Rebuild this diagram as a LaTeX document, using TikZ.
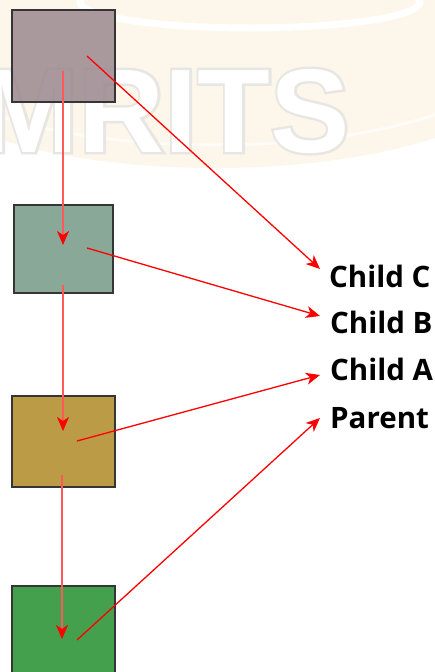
\documentclass[tikz,border=0pt]{standalone}
\usepackage{fontspec}
\setmainfont{Open Sans}
\usetikzlibrary{arrows.meta,calc}
\font\wmout="Liberation Sans Bold:embolden=4" at 119pt
\font\wmin="Liberation Sans Bold" at 119pt
\definecolor{cream}{HTML}{FDF6EA}
\definecolor{wmgray}{HTML}{E8E6E3}
\definecolor{cA}{HTML}{9B888F}
\definecolor{cB}{HTML}{89A898}
\definecolor{cC}{HTML}{BB9B45}
\definecolor{cD}{HTML}{44A04C}
\definecolor{edge}{HTML}{353535}
\tikzset{
  box/.style={draw=edge, line width=1.4pt, inner sep=0pt},
  label/.style={anchor=base west, inner sep=0pt, font=\fontsize{29.5}{32}\selectfont\bfseries},
  vlink/.style={draw=red!65, line width=1.8pt, -{Stealth[length=14pt,width=12pt,inset=4pt,red]}},
  dlink/.style={draw=red, line width=1.3pt, -{Stealth[length=14pt,width=12pt,inset=4pt,red]}}
}
\begin{document}
\begin{tikzpicture}[x=1pt,y=-1pt]
\useasboundingbox (0,0) rectangle (435,672);
\fill[white] (0,0) rectangle (435,672);
% faint watermark
\begin{scope}
\clip (0,0) rectangle (435,672);
\fill[cream] (215,50) ellipse [x radius=330, y radius=118];
\draw[white, line width=7pt] (250,2) ellipse [x radius=170, y radius=26];
\draw[white, line width=3pt, opacity=.7] (215,50) ellipse [x radius=300, y radius=95];
\node[anchor=base east, inner sep=0pt, text=wmgray] (wmo) at (350,152) {\wmout MRITS};
\node[anchor=base east, inner sep=0pt, text=white] (wmi) at (350,152) {\wmin MRITS};
\end{scope}
% boxes
\node[box, fill=cA, fill opacity=.85, minimum width=103pt, minimum height=92pt] (b1) at (63.5,56) {};
\node[box, fill=cB, minimum width=99pt, minimum height=88pt] (b2) at (63.5,249) {};
\node[box, fill=cC, minimum width=103pt, minimum height=91pt] (b3) at (63.5,441.5) {};
\node[box, fill=cD, minimum width=103pt, minimum height=92pt] (b4) at (63.5,632) {};
% labels
\node[label] (lc) at (329,287) {Child C};
\node[label] (lb) at (330,333) {Child B};
\node[label] (la) at (330,380) {Child A};
\node[label] (lp) at (330,428) {Parent};
% connector ends
\coordinate (s1) at ($(b1.center)+(-0.5,15)$);
\coordinate (t2) at ($(b2.center)+(-0.5,-4)$);
\coordinate (s2) at ($(b2.center)+(-0.5,36)$);
\coordinate (t3) at ($(b3.center)+(-0.5,-10.5)$);
\coordinate (s3) at ($(b3.center)+(-1.5,33.5)$);
\coordinate (t4) at ($(b4.center)+(-1.5,7)$);
\coordinate (d1) at ($(b1.center)+(23.5,0)$);
\coordinate (d2) at ($(b2.center)+(23.5,-1)$);
\coordinate (d3) at ($(b3.center)+(13.5,-0.5)$);
\coordinate (d4) at ($(b4.center)+(13.5,8)$);
\coordinate (e1) at ($(lc.base west)+(-9,-18)$);
\coordinate (e2) at ($(lb.base west)+(-10,-17)$);
\coordinate (e3) at ($(la.base west)+(-10,-5)$);
\coordinate (e4) at ($(lp.base west)+(-10,-10)$);
% connectors
\draw[vlink] (s1) -- (t2);
\draw[vlink] (s2) -- (t3);
\draw[vlink] (s3) -- (t4);
\draw[dlink] (d1) -- (e1);
\draw[dlink] (d2) -- (e2);
\draw[dlink] (d3) -- (e3);
\draw[dlink] (d4) -- (e4);
\end{tikzpicture}
\end{document}
